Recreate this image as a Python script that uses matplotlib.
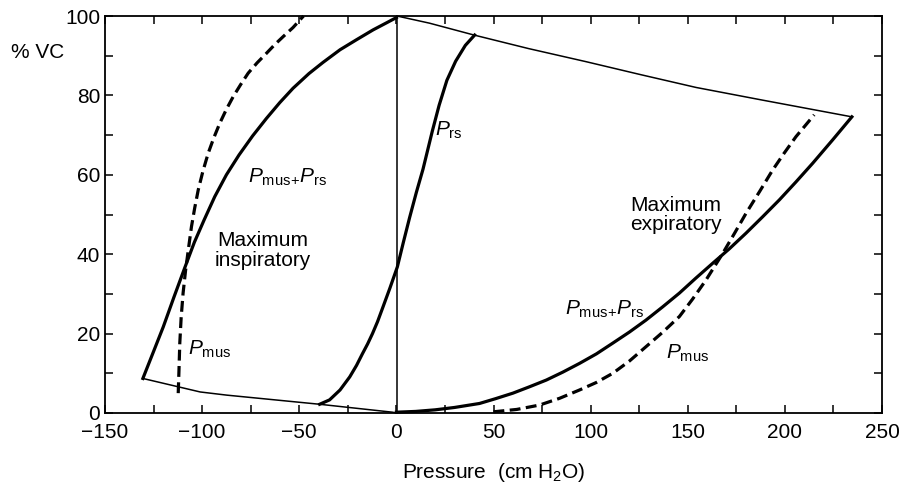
import matplotlib
matplotlib.use('Agg')
import matplotlib.pyplot as plt
from matplotlib.ticker import MultipleLocator

plt.rcParams['font.family'] = 'Liberation Sans'
plt.rcParams['mathtext.fontset'] = 'custom'
plt.rcParams['mathtext.rm'] = 'Liberation Sans'
plt.rcParams['mathtext.it'] = 'Liberation Sans:italic'

# maximum inspiratory, P_mus + P_rs (solid)
insp_tot_p = [-130.5, -125, -120, -114.5, -109, -104, -99, -93.5, -87.5, -81, -74, -66.9,
              -60, -53.2, -45, -37.8, -29, -20.6, -12, -5, 0]
insp_tot_v = [8.7, 15.5, 21.7, 29.2, 36.5, 43, 48.6, 54.5, 60, 65, 69.8, 74.2,
              78.2, 81.8, 85.5, 88.3, 91.5, 94, 96.5, 98.3, 99.6]

# maximum inspiratory, P_mus alone (dashed)
insp_mus_p = [-112.3, -111.9, -111.5, -110.8, -109.8, -108.5, -107, -105.5, -103.8, -102,
              -99.6, -96.9, -94, -90.9, -87.5, -84, -80.2, -76.3, -71.7, -66.9, -62.6,
              -58.3, -53.2, -47.8]
insp_mus_v = [5, 11, 17.6, 24, 30.2, 36, 41.5, 46.9, 51.7, 56.2,
              60.9, 65.4, 69.3, 73, 76.5, 79.7, 82.7, 85.6, 88.2, 90.6, 92.8,
              94.8, 97.1, 100]

# relaxation curve P_rs
rs_p = [-39.5, -34.4, -29, -24, -20.5, -17.5, -14.8, -12.3, -9.7, -7.2, -3.3, 0.5,
        3.6, 6.8, 10.3, 13.7, 16, 18.5, 22, 26, 30.5, 35.5, 40.3]
rs_v = [2.2, 3.3, 5.8, 9.1, 12, 14.9, 17.4, 20, 23, 26.3, 31.5, 36.8,
        43, 49.2, 55.6, 61.4, 66, 71, 77.5, 83.8, 88.6, 92.6, 95.2]

# maximum expiratory, P_mus + P_rs (solid)
exp_tot_p = [0, 10, 20, 30, 42.8, 51, 60, 68.5, 77.2, 85.7, 94.3, 103, 111.4, 120, 128.5,
             137, 145.7, 154, 162.8, 171.5, 180, 188.5, 197.2, 205.7, 214.3, 224.6, 234.5]
exp_tot_v = [0.2, 0.4, 0.8, 1.4, 2.4, 3.6, 5, 6.6, 8.3, 10.3, 12.5, 14.9, 17.6, 20.4, 23.4,
             26.7, 30.2, 33.9, 37.7, 41.4, 45.3, 49.4, 53.7, 58.2, 62.9, 68.8, 74.6]

# maximum expiratory, P_mus alone (dashed)
exp_mus_p = [50, 62, 73.7, 84, 94.3, 103, 111.4, 120, 128.5, 137, 145.7, 152.5, 159.4,
             168, 174, 180, 187, 193.7, 199.7, 205.7, 215.1]
exp_mus_v = [0.3, 0.9, 2, 3.7, 5.8, 7.7, 10, 13.1, 16.7, 20.3, 24.3, 28.7, 33.5,
             40.2, 45.2, 50.3, 55.8, 61.2, 65.5, 69.6, 75.1]

# thin outline: bottom edge, zero-pressure line and top edge
low_p = [-130.5, -101, -87.3, -39.5, -2, 0]
low_v = [8.7, 5.3, 4.5, 2.2, 0.2, 0]
zero_p = [0.3, 0.3]
zero_v = [0, 100]
top_p = [0.3, 17, 40, 68, 97.6, 126, 154.3, 188.6, 234.5]
top_v = [100, 98.2, 95.2, 91.8, 88.5, 85.2, 82, 78.8, 74.6]

fig = plt.figure(figsize=(8.99, 4.83), dpi=100)
ax = fig.add_axes([105/899, 70/483, 777/899, 397/483])

thick = 2.3
thin = 1.1
dash = (3.4, 1.7)

ax.plot(low_p, low_v, color='k', lw=thin, clip_on=False)
ax.plot(zero_p, zero_v, color='k', lw=thin, clip_on=False)
ax.plot(top_p, top_v, color='k', lw=thin, clip_on=False)
ax.plot(insp_tot_p, insp_tot_v, color='k', lw=thick, clip_on=False)
ax.plot(insp_mus_p, insp_mus_v, color='k', lw=thick, dashes=dash, clip_on=False)
ax.plot(rs_p, rs_v, color='k', lw=thick, clip_on=False)
ax.plot(exp_tot_p, exp_tot_v, color='k', lw=thick, clip_on=False)
ax.plot(exp_mus_p, exp_mus_v, color='k', lw=thick, dashes=dash, clip_on=False)

fs = 15
tot_label = r'$\mathit{P}_{\mathrm{mus}}$' + r'$_{+}$' + r'$\mathit{P}_{\mathrm{rs}}$'
ax.text(-76.5, 59.4, tot_label, fontsize=fs, ha='left', va='center')
ax.text(-68.8, 41, 'Maximum\ninspiratory', fontsize=fs, ha='center', va='center',
        linespacing=1.05)
ax.text(-107.3, 16, r'$\mathit{P}_{\mathrm{mus}}$', fontsize=fs, ha='left', va='center')
ax.text(19.7, 71.3, r'$\mathit{P}_{\mathrm{rs}}$', fontsize=fs, ha='left', va='center')
ax.text(144, 49.9, 'Maximum\nexpiratory', fontsize=fs, ha='center', va='center',
        linespacing=1.05)
ax.text(86.6, 26, tot_label, fontsize=fs, ha='left', va='center')
ax.text(139, 15, r'$\mathit{P}_{\mathrm{mus}}$', fontsize=fs, ha='left', va='center')

ax.set_xlim(-150, 250)
ax.set_ylim(0, 100)
ax.xaxis.set_major_locator(MultipleLocator(50))
ax.xaxis.set_minor_locator(MultipleLocator(25))
ax.yaxis.set_major_locator(MultipleLocator(20))
ax.yaxis.set_minor_locator(MultipleLocator(10))
ax.tick_params(which='both', direction='in', top=True, right=True,
               length=6, width=1.1, labelsize=fs)
ax.tick_params(axis='x', pad=7)
ax.tick_params(axis='y', pad=3.5)
ax.set_xticks([-150, -100, -50, 0, 50, 100, 150, 200, 250])
ax.set_xticklabels(['\u2212150', '\u2212100', '\u221250', '0', '50', '100', '150', '200', '250'])
for s in ax.spines.values():
    s.set_linewidth(1.3)

ax.set_xlabel('Pressure  (cm H$_2$O)', fontsize=fs, labelpad=14)
fig.text(37.5/899, 1 - 52/483, '% VC', fontsize=fs, ha='center', va='center')

fig.savefig('out.png', dpi=100)
